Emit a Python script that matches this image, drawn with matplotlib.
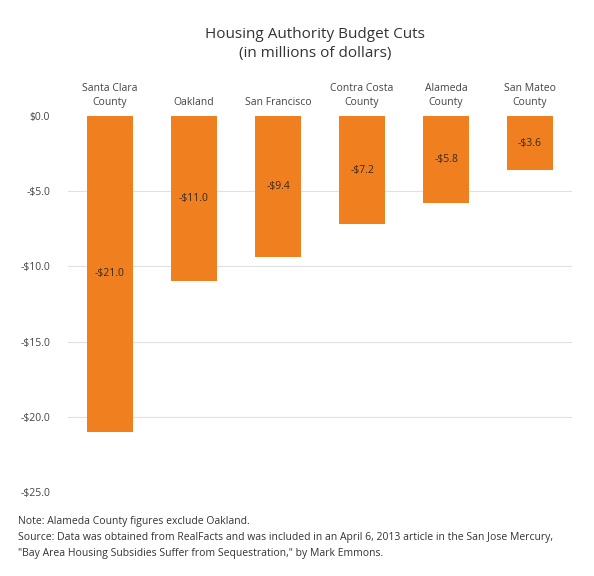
import matplotlib.pyplot as plt
import numpy as np

plt.rcParams['font.family'] = ['Open Sans', 'DejaVu Sans']

categories = ["Santa Clara\nCounty", "Oakland", "San Francisco", "Contra Costa\nCounty", "Alameda\nCounty", "San Mateo\nCounty"]
cuts = [-21.0, -11.0, -9.4, -7.2, -5.8, -3.6]
yticks = [0, -5, -10, -15, -20, -25]

orange = '#F0801F'

fig = plt.figure(figsize=(5.94, 5.76), dpi=100)
ax = fig.add_axes([0.1145, 0.146, 0.8485, 0.6526])

x = np.arange(len(categories))
bars = ax.bar(x, cuts, width=0.54, color=orange, zorder=3)

# value labels in the middle of each bar
for xi, v in zip(x, cuts):
    ax.text(xi, v / 2, "-${:.1f}".format(abs(v)), ha='center', va='center',
            fontsize=7.5, color='#3a2a1a', zorder=4)

ax.set_xlim(-0.5, len(categories) - 0.5)
ax.set_ylim(-25, 0)
ax.set_yticks(yticks)
ax.set_yticklabels(["$0.0" if t == 0 else "-${:.1f}".format(abs(t)) for t in yticks],
                   fontsize=7.5, color='#444444')
ax.tick_params(axis='y', length=0, pad=13)

ax.xaxis.tick_top()
ax.set_xticks(x)
ax.set_xticklabels(categories, fontsize=7.5, color='#444444', linespacing=1.3)
ax.tick_params(axis='x', length=0, pad=6)

# light gridlines below zero only
for t in yticks[1:]:
    ax.axhline(t, color='#e0e0e0', linewidth=0.8, zorder=0)
for s in ax.spines.values():
    s.set_visible(False)

fig.text(0.53, 0.924, "Housing Authority Budget Cuts\n(in millions of dollars)",
         ha='center', va='center', fontsize=11, color='#333333', linespacing=1.35)

fig.text(0.03, 0.090, "Note: Alameda County figures exclude Oakland.", fontsize=7.5, color='#333333')
fig.text(0.03, 0.062, "Source: Data was obtained from RealFacts and was included in an April 6, 2013 article in the San Jose Mercury,",
         fontsize=7.5, color='#333333')
fig.text(0.03, 0.034, "\"Bay Area Housing Subsidies Suffer from Sequestration,\" by Mark Emmons.",
         fontsize=7.5, color='#333333')

fig.savefig("out.png", dpi=100)
